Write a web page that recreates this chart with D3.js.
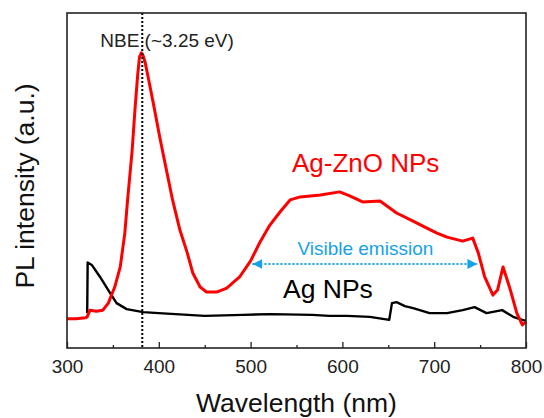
<!DOCTYPE html>
<html>
<head>
<meta charset="utf-8">
<script src="https://cdnjs.cloudflare.com/ajax/libs/d3/7.8.5/d3.min.js"></script>
<style>
  body { margin: 0; background: #fff; }
  text { font-family: Arial, "Liberation Sans", sans-serif; }
</style>
</head>
<body>
<div id="pl_div"></div>
<script>
  // data (wavelength in nm, intensity in a.u.)
  var agZnoWl = [300, 310, 320, 322, 325, 332, 339, 345, 352, 358, 363, 366, 371, 374, 377, 379, 381, 383, 385, 389,
    394, 401, 409, 415, 423, 431, 437, 445, 452, 463, 474, 488, 500, 510, 521, 532, 543, 554, 576, 597,
    608, 622, 641, 659, 677, 692, 703, 714, 731, 742, 748, 755, 764, 769, 775, 783, 790, 796, 800];
  var agZnoI = [87, 87, 90, 93, 113, 110, 113, 134, 182, 242, 343, 442, 591, 710, 815, 869, 881, 872, 854, 800,
    731, 630, 522, 442, 352, 284, 224, 182, 167, 167, 179, 212, 260, 315, 367, 406, 442, 451, 457, 466,
    454, 436, 439, 403, 379, 358, 343, 331, 319, 328, 284, 212, 158, 173, 242, 173, 104, 69, 78];

  var agWl = [322, 322.5, 327, 336, 347, 354, 365, 383, 400, 450, 492, 522, 567, 586, 605, 630, 651, 654, 659,
    668, 677, 695, 714, 731, 744, 757, 774, 786, 796, 800];
  var agI = [104, 255, 248, 212, 164, 134, 116, 107, 104, 96, 99, 101, 99, 96, 96, 93, 84, 134, 137,
    125, 119, 104, 104, 113, 122, 104, 113, 93, 84, 81];

  var xTicks = [300, 400, 500, 600, 700, 800];
  var xMinorTicks = [350, 450, 550, 650, 750];
  var nbeWl = 382;
  var visibleRange = [502, 747];

  var margin = { top: 13, right: 18, bottom: 70, left: 67 };
  var W = 544, H = 418;
  var width = W - margin.left - margin.right;
  var height = H - margin.top - margin.bottom;

  var svg = d3.select("#pl_div")
    .append("svg")
    .attr("width", W)
    .attr("height", H)
    .append("g")
    .attr("transform", "translate(" + margin.left + "," + margin.top + ")");

  var x = d3.scaleLinear().domain([300, 800]).range([0, width]);
  var y = d3.scaleLinear().domain([0, 1000]).range([height, 0]);

  // x axis, ticks pointing inward
  var xAxis = svg.append("g")
    .attr("transform", "translate(0," + height + ")")
    .call(d3.axisBottom(x).tickValues(xTicks).tickSize(-6).tickPadding(12).tickFormat(d3.format("d")));
  xAxis.select(".domain").remove();
  xAxis.selectAll("line").attr("stroke", "#222").attr("stroke-width", 1.3);
  xAxis.selectAll("text").attr("font-size", 19).attr("fill", "#222")
    .style("font-family", "Arial, 'Liberation Sans', sans-serif");

  var xMinor = svg.append("g")
    .attr("transform", "translate(0," + height + ")")
    .call(d3.axisBottom(x).tickValues(xMinorTicks).tickSize(-3).tickFormat(""));
  xMinor.select(".domain").remove();
  xMinor.selectAll("line").attr("stroke", "#222").attr("stroke-width", 1.3);

  // lines
  var line = d3.line()
    .x(function (d) { return x(d[0]); })
    .y(function (d) { return y(d[1]); });

  svg.append("path")
    .datum(d3.zip(agWl, agI))
    .attr("d", line)
    .attr("fill", "none")
    .attr("stroke", "#000")
    .attr("stroke-width", 2.4)
    .attr("stroke-linejoin", "round");

  svg.append("path")
    .datum(d3.zip(agZnoWl, agZnoI))
    .attr("d", line)
    .attr("fill", "none")
    .attr("stroke", "#ff0000")
    .attr("stroke-width", 3)
    .attr("stroke-linejoin", "round");

  // NBE marker
  svg.append("line")
    .attr("x1", x(nbeWl)).attr("x2", x(nbeWl))
    .attr("y1", 0).attr("y2", height)
    .attr("stroke", "#000")
    .attr("stroke-width", 2)
    .attr("stroke-dasharray", "2,2");

  svg.append("text")
    .attr("x", x(nbeWl) - 42)
    .attr("y", 34)
    .attr("font-size", 19)
    .attr("fill", "#222")
    .text("NBE (~3.25 eV)");

  // visible emission arrow
  var blue = "#16a2e6";
  var defs = svg.append("defs");
  defs.append("marker")
    .attr("id", "arrowR")
    .attr("viewBox", "0 0 10 10")
    .attr("refX", 10).attr("refY", 5)
    .attr("markerWidth", 10).attr("markerHeight", 10)
    .attr("markerUnits", "userSpaceOnUse")
    .attr("orient", "auto-start-reverse")
    .append("path")
    .attr("d", "M0,0L10,5L0,10Z")
    .attr("fill", blue);

  var arrowY = 264 - margin.top;
  svg.append("line")
    .attr("x1", x(visibleRange[0])).attr("x2", x(visibleRange[1]))
    .attr("y1", arrowY).attr("y2", arrowY)
    .attr("stroke", blue)
    .attr("stroke-width", 2)
    .attr("stroke-dasharray", "2,2")
    .attr("marker-start", "url(#arrowR)")
    .attr("marker-end", "url(#arrowR)");

  svg.append("text")
    .attr("x", x(625))
    .attr("y", 255 - margin.top)
    .attr("text-anchor", "middle")
    .attr("font-size", 19)
    .attr("fill", blue)
    .text("Visible emission");

  svg.append("text")
    .attr("x", 292 - margin.left)
    .attr("y", 172 - margin.top)
    .attr("font-size", 26)
    .attr("fill", "#ff0000")
    .text("Ag-ZnO NPs");

  svg.append("text")
    .attr("x", 283 - margin.left)
    .attr("y", 298 - margin.top)
    .attr("font-size", 26.5)
    .attr("fill", "#000")
    .text("Ag NPs");

  // frame
  svg.append("rect")
    .attr("x", 0).attr("y", 0)
    .attr("width", width).attr("height", height)
    .attr("fill", "none")
    .attr("stroke", "#222")
    .attr("stroke-width", 1.6);

  // axis titles
  svg.append("text")
    .attr("x", width / 2)
    .attr("y", 412 - margin.top)
    .attr("text-anchor", "middle")
    .attr("font-size", 26.5)
    .attr("fill", "#111")
    .text("Wavelength (nm)");

  svg.append("text")
    .attr("transform", "translate(" + (34 - margin.left) + "," + (186 - margin.top) + ")rotate(-90)")
    .attr("text-anchor", "middle")
    .attr("font-size", 26.5)
    .attr("fill", "#111")
    .text("PL intensity (a.u.)");
</script>
</body>
</html>
